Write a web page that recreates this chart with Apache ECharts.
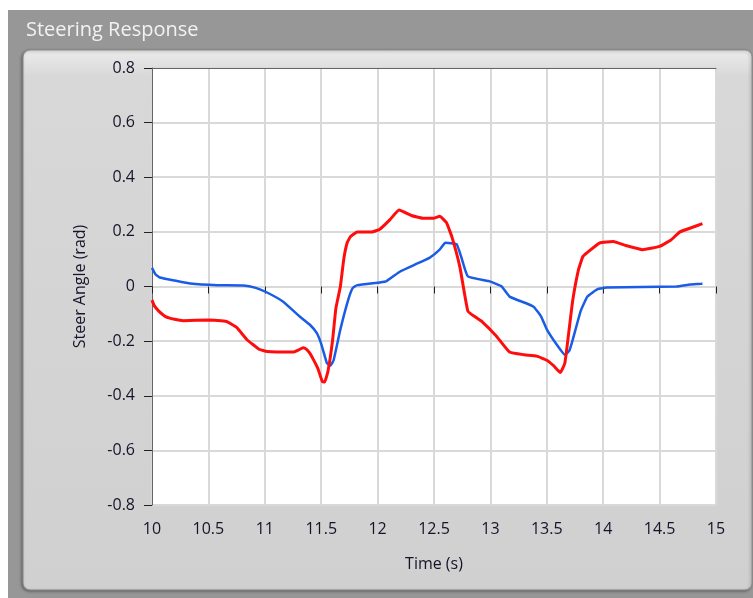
<!DOCTYPE html>
<html>
<head>
<meta charset="utf-8">
<script src="https://cdn.jsdelivr.net/npm/echarts@6/dist/echarts.min.js"></script>
<style>
  html, body { margin: 0; padding: 0; background: #fff; }
  #chart { width: 753px; height: 598px; }
</style>
</head>
<body>
<div id="chart"></div>
<script>
// time axis (s) and steer angle axis (rad)
const xTicks = [10, 10.5, 11, 11.5, 12, 12.5, 13, 13.5, 14, 14.5, 15]
const yTicks = [-0.8, -0.6, -0.4, -0.2, 0, 0.2, 0.4, 0.6, 0.8]

// blue trace
const blueT = [10.00, 10.03, 10.07, 10.20, 10.34, 10.58, 10.81, 10.92, 11.02, 11.16, 11.31, 11.40, 11.46, 11.50, 11.55, 11.58, 11.61, 11.67, 11.74, 11.78, 11.82, 12.02, 12.08, 12.20, 12.33, 12.46, 12.55, 12.60, 12.70, 12.74, 12.80, 13.00, 13.10, 13.17, 13.38, 13.45, 13.50, 13.60, 13.66, 13.70, 13.73, 13.80, 13.86, 13.95, 14.03, 14.65, 14.77, 14.88]
const blueV = [0.068, 0.045, 0.033, 0.022, 0.011, 0.005, 0.004, -0.005, -0.022, -0.055, -0.11, -0.14, -0.17, -0.21, -0.28, -0.29, -0.27, -0.157, -0.048, -0.005, 0.005, 0.015, 0.02, 0.055, 0.08, 0.105, 0.135, 0.16, 0.155, 0.11, 0.037, 0.018, 0.0, -0.037, -0.073, -0.11, -0.157, -0.22, -0.25, -0.235, -0.195, -0.09, -0.037, -0.01, -0.004, 0.0, 0.007, 0.01]

// red trace
const redT = [10.00, 10.02, 10.06, 10.12, 10.20, 10.28, 10.50, 10.66, 10.75, 10.84, 10.95, 11.02, 11.25, 11.30, 11.34, 11.37, 11.40, 11.43, 11.47, 11.51, 11.53, 11.56, 11.60, 11.63, 11.67, 11.70, 11.73, 11.76, 11.82, 11.95, 12.02, 12.11, 12.19, 12.30, 12.40, 12.50, 12.55, 12.61, 12.66, 12.73, 12.80, 12.86, 12.93, 13.05, 13.17, 13.30, 13.41, 13.50, 13.56, 13.62, 13.66, 13.70, 13.73, 13.78, 13.82, 13.86, 13.97, 14.09, 14.20, 14.35, 14.50, 14.60, 14.68, 14.78, 14.88]
const redV = [-0.05, -0.07, -0.09, -0.11, -0.12, -0.125, -0.123, -0.128, -0.15, -0.194, -0.23, -0.238, -0.24, -0.232, -0.224, -0.23, -0.245, -0.267, -0.30, -0.348, -0.35, -0.31, -0.20, -0.08, 0.0, 0.10, 0.16, 0.183, 0.20, 0.20, 0.21, 0.245, 0.28, 0.26, 0.25, 0.25, 0.257, 0.234, 0.18, 0.07, -0.09, -0.11, -0.13, -0.18, -0.24, -0.25, -0.255, -0.27, -0.29, -0.315, -0.28, -0.15, -0.05, 0.06, 0.11, 0.125, 0.16, 0.165, 0.15, 0.135, 0.147, 0.17, 0.20, 0.215, 0.23]

const pairs = (t, v) => t.map((x, i) => [x, v[i]])

const chart = echarts.init(document.getElementById('chart'))
const font = 'Open Sans'
const labelColor = '#14142a'

const option = {
  animation: false,
  backgroundColor: '#ffffff',
  textStyle: { fontFamily: font },
  title: {
    text: 'Steering Response',
    left: 21,
    top: 15,
    textStyle: { color: '#f2f2f2', fontSize: 20, fontWeight: 'normal', fontFamily: font }
  },
  graphic: [
    // gray frame
    { type: 'rect', z: -10, shape: { x: 8, y: 10, width: 760, height: 600 }, style: { fill: '#979797' } },
    // light panel
    {
      type: 'rect', z: -9,
      shape: { x: 23, y: 50, width: 729, height: 540, r: 7 },
      style: {
        fill: new echarts.graphic.LinearGradient(0, 0, 0, 1, [
          { offset: 0, color: '#ececec' },
          { offset: 0.05, color: '#d8d8d8' },
          { offset: 1, color: '#d0d0d0' }
        ]),
        stroke: '#8a8a8a',
        lineWidth: 1,
        shadowBlur: 3,
        shadowColor: 'rgba(0,0,0,0.35)',
        shadowOffsetX: -1,
        shadowOffsetY: 1
      }
    }
  ],
  grid: {
    left: 152,
    right: 37,
    top: 68,
    bottom: 93,
    show: true,
    backgroundColor: '#ffffff',
    borderWidth: 0
  },
  xAxis: [
    {
      type: 'value',
      min: xTicks[0],
      max: xTicks[xTicks.length - 1],
      interval: 0.5,
      offset: 5,
      name: 'Time (s)',
      nameLocation: 'middle',
      nameGap: 46,
      nameTextStyle: { color: labelColor, fontSize: 16, fontFamily: font },
      axisLine: { show: false },
      axisTick: { show: true, inside: false, length: 7, lineStyle: { color: '#222', width: 1 } },
      axisLabel: { color: labelColor, fontSize: 16, margin: 11, fontFamily: font },
      splitLine: { show: true, lineStyle: { color: '#d9d9d9', width: 2 } }
    },
    {
      type: 'value',
      position: 'top',
      min: xTicks[0],
      max: xTicks[xTicks.length - 1],
      axisLine: { show: true, lineStyle: { color: '#666', width: 1 } },
      axisTick: { show: false },
      axisLabel: { show: false },
      splitLine: { show: false }
    }
  ],
  yAxis: {
    type: 'value',
    min: yTicks[0],
    max: yTicks[yTicks.length - 1],
    interval: 0.2,
    name: 'Steer Angle (rad)',
    nameLocation: 'middle',
    nameGap: 64,
    nameTextStyle: { color: labelColor, fontSize: 16, fontFamily: font },
    axisLine: { show: true, lineStyle: { color: '#666', width: 1 } },
    axisTick: { show: true, length: 8, lineStyle: { color: '#222', width: 1 } },
    axisLabel: { color: labelColor, fontSize: 16, margin: 17, fontFamily: font },
    splitLine: { show: true, lineStyle: { color: '#d9d9d9', width: 2 } }
  },
  series: [
    {
      type: 'line',
      name: 'blue',
      data: pairs(blueT, blueV),
      showSymbol: false,
      smooth: 0.12,
      lineStyle: { color: '#1a5ce6', width: 2.5 }
    },
    {
      type: 'line',
      name: 'red',
      data: pairs(redT, redV),
      showSymbol: false,
      smooth: 0.12,
      lineStyle: { color: '#ff0d0d', width: 3 }
    }
  ]
}

chart.setOption(option)
</script>
</body>
</html>
